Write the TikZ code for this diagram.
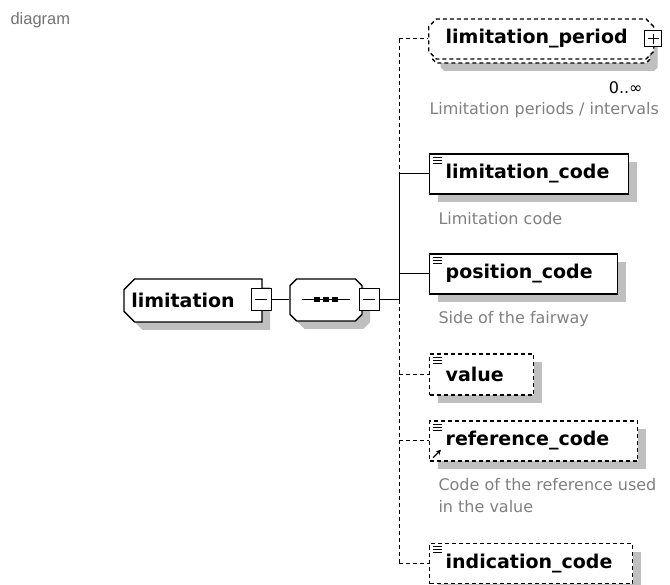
\documentclass[tikz,border=0pt]{standalone}
\usepackage{fontspec}
\setmainfont{DejaVu Sans}
\newfontfamily\uifont{Liberation Sans}
\usetikzlibrary{arrows.meta,calc,shapes.misc,shadows}
\newcommand\bigb{\fontsize{19}{22}\selectfont\bfseries}

\begin{document}
\begin{tikzpicture}[x=1pt,y=-1pt,>=Stealth,line width=1pt]
\tikzstyle{shd}=[drop shadow={shadow xshift=8pt,shadow yshift=-8pt,fill=black!25,opacity=1}]
\tikzstyle{elem}=[draw,line width=1.4pt,fill=white,anchor=west,minimum height=40pt,inner xsep=16pt,inner ysep=0pt,align=left,font=\bigb]
\tikzstyle{opt}=[elem,dash pattern=on 4pt off 3pt]
\tikzstyle{opl}=[dash pattern=on 4pt off 3pt]
\tikzstyle{desc}=[anchor=west,inner sep=0pt,text=black!50,align=left,font=\fontsize{16}{22}\selectfont]
\tikzstyle{pm}=[draw,fill=white,minimum width=20pt,minimum height=22pt,inner sep=0pt]
\tikzstyle{minusbox}=[pm,path picture={\draw ([xshift=4pt]path picture bounding box.west) -- ([xshift=-4pt]path picture bounding box.east);}]
\tikzstyle{plusbox}=[pm,path picture={\draw ([xshift=3pt]path picture bounding box.west) -- ([xshift=-3pt]path picture bounding box.east); \draw ([yshift=-3pt]path picture bounding box.north) -- ([yshift=3pt]path picture bounding box.south);}]
\useasboundingbox (0,0) rectangle (670,585);
\node[anchor=west,inner sep=0pt,text=black!55,font=\uifont\fontsize{16.5}{20}\selectfont] (title) at (10,20) {diagram};
% root element and sequence
\node[chamfered rectangle,chamfered rectangle corners={north west,south west},chamfered rectangle xsep=7pt,inner xsep=0pt,draw,line width=1.4pt,fill=white,minimum width=138pt,minimum height=43pt,font=\bigb,shd] (limitation) at (193,300.5) {limitation\hspace*{20pt}};
\node[minusbox] (limitationm) at (261,300) {};
\node[chamfered rectangle,chamfered rectangle xsep=12pt,draw,line width=1.4pt,fill=white,minimum width=72pt,minimum height=42pt,shd] (seq) at (326,300) {};
\node[minusbox] (seqm) at (369,300) {};
\draw ($(seq.center)+(-24,0)$) -- ($(seq.center)+(24,0)$);
\foreach \d in {-9,0,9} \fill ($(seq.center)+(\d,0)$) +(-3,-2.5) rectangle +(3,2.5);
\coordinate (bus) at (399,300);
% children
\node[opt,chamfered rectangle,chamfered rectangle xsep=4pt,inner xsep=13pt,text width=191pt,shd] (lperiodb) at (432,43) {};
\node[opt,chamfered rectangle,chamfered rectangle xsep=4pt,inner xsep=13pt,text width=191pt] (lperiod) at (428,39) {limitation\_period};
\node[plusbox,minimum width=17pt,minimum height=16pt] (lperiodp) at (653,39) {};
\node[anchor=east,inner sep=0pt,font=\fontsize{16}{20}\selectfont] (lperiodn) at (643,88) {0..∞};
\node[desc] (lperiodd) at (429,110) {Limitation periods / intervals};
\node[elem,shd,text width=167pt] (lcode) at (429,174) {limitation\_code};
\node[desc] (lcoded) at (438,219) {Limitation code};
\node[elem,shd,text width=156pt] (pcode) at (429,274) {position\_code};
\node[desc] (pcoded) at (438,319) {Side of the fairway};
\node[opt,shd,text width=72pt,minimum height=41pt] (value) at (429,374.5) {value};
\node[opt,shd,text width=176pt] (rcode) at (429,441) {reference\_code};
\node[desc] (rcoded) at (438,496) {Code of the reference used\\in the value};
\node[opt,shd,text width=171pt] (icode) at (429,563.5) {indication\_code};
\foreach \n in {lcode,pcode,value,rcode,icode} \foreach \k in {0,1,2} \draw[line width=0.8pt] ($(\n.north west)+(4,4+3*\k)$) -- ++(9,0);
\draw[-{Stealth[length=5pt,width=5pt]},line width=1.2pt] ($(rcode.south west)+(4,-4)$) -- ++(8,-8);
% connectors
\draw (limitationm.east) -- (seq.west); \draw (seqm.east) -- (bus);
\draw[opl] (bus |- lperiod.west) -- (bus |- lcode.west); \draw (bus |- lcode.west) -- (bus);
\draw[opl] (bus) -- (bus |- icode.west);
\draw[opl] (bus |- lperiod.west) -- (lperiod.west);
\draw (bus |- lcode.west) -- (lcode.west); \draw (bus |- pcode.west) -- (pcode.west);
\draw[opl] (bus |- value.west) -- (value.west); \draw[opl] (bus |- rcode.west) -- (rcode.west);
\draw[opl] (bus |- icode.west) -- (icode.west);
\end{tikzpicture}
\end{document}
